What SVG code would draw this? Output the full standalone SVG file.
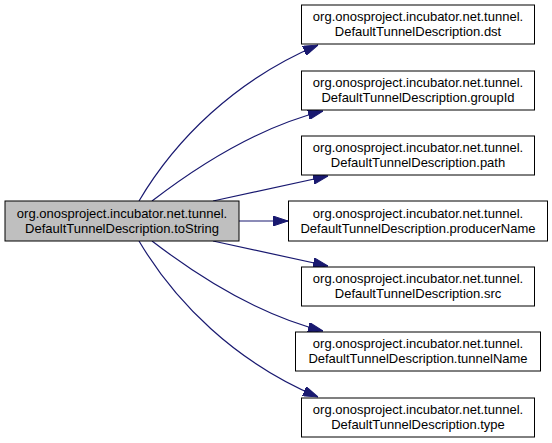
<svg xmlns="http://www.w3.org/2000/svg" width="552" height="443" viewBox="0 0 552 443">
<style>
.node rect{fill:#ffffff;stroke:#000000;stroke-width:1}
.node.main rect{fill:#bfbfbf}
.node text{font-family:"Liberation Sans",Arial,sans-serif;font-size:13px;fill:#000000;text-anchor:middle}
.edge{fill:none;stroke:#191970;stroke-width:1.2;marker-end:url(#arrow)}
</style>
<defs>
<marker id="arrow" markerUnits="userSpaceOnUse" markerWidth="15" markerHeight="10" refX="15" refY="5" orient="auto">
<path d="M0,0 L15,5 L0,10 Z" fill="#191970" stroke="#191970" stroke-width="1"/>
</marker>
</defs>
<rect width="552" height="443" fill="#ffffff"/>
<g id="connectors">
<path class="edge" d="M139,201 C175,140 235,80 318,45"/>
<path class="edge" d="M152,201 C195,168 255,128 323,111"/>
<path class="edge" d="M213,201 L328,176"/>
<path class="edge" d="M239,221 L288,221"/>
<path class="edge" d="M213,241 L328,266"/>
<path class="edge" d="M152,241 C195,274 255,314 323,331"/>
<path class="edge" d="M139,241 C175,302 235,362 318,397"/>
</g>
<g id="node-toString" class="node main">
<rect x="5" y="201" width="234" height="40"/>
<text x="122" y="217.5">org.onosproject.incubator.net.tunnel.</text>
<text x="122" y="232.5">DefaultTunnelDescription.toString</text>
</g>
<g id="node-dst" class="node">
<rect x="301.5" y="5" width="233" height="39"/>
<text x="418" y="21">org.onosproject.incubator.net.tunnel.</text>
<text x="418" y="36">DefaultTunnelDescription.dst</text>
</g>
<g id="node-groupId" class="node">
<rect x="301.5" y="71" width="233" height="39"/>
<text x="418" y="87">org.onosproject.incubator.net.tunnel.</text>
<text x="418" y="102">DefaultTunnelDescription.groupId</text>
</g>
<g id="node-path" class="node">
<rect x="301.5" y="136" width="233" height="39"/>
<text x="418" y="152">org.onosproject.incubator.net.tunnel.</text>
<text x="418" y="167">DefaultTunnelDescription.path</text>
</g>
<g id="node-producerName" class="node">
<rect x="288.5" y="201" width="259" height="40"/>
<text x="418" y="217.5">org.onosproject.incubator.net.tunnel.</text>
<text x="418" y="232.5">DefaultTunnelDescription.producerName</text>
</g>
<g id="node-src" class="node">
<rect x="301.5" y="267" width="233" height="39"/>
<text x="418" y="283">org.onosproject.incubator.net.tunnel.</text>
<text x="418" y="298">DefaultTunnelDescription.src</text>
</g>
<g id="node-tunnelName" class="node">
<rect x="295.5" y="332" width="245" height="39"/>
<text x="418" y="348">org.onosproject.incubator.net.tunnel.</text>
<text x="418" y="363">DefaultTunnelDescription.tunnelName</text>
</g>
<g id="node-type" class="node">
<rect x="301.5" y="398" width="233" height="39"/>
<text x="418" y="414">org.onosproject.incubator.net.tunnel.</text>
<text x="418" y="429">DefaultTunnelDescription.type</text>
</g>
</svg>
